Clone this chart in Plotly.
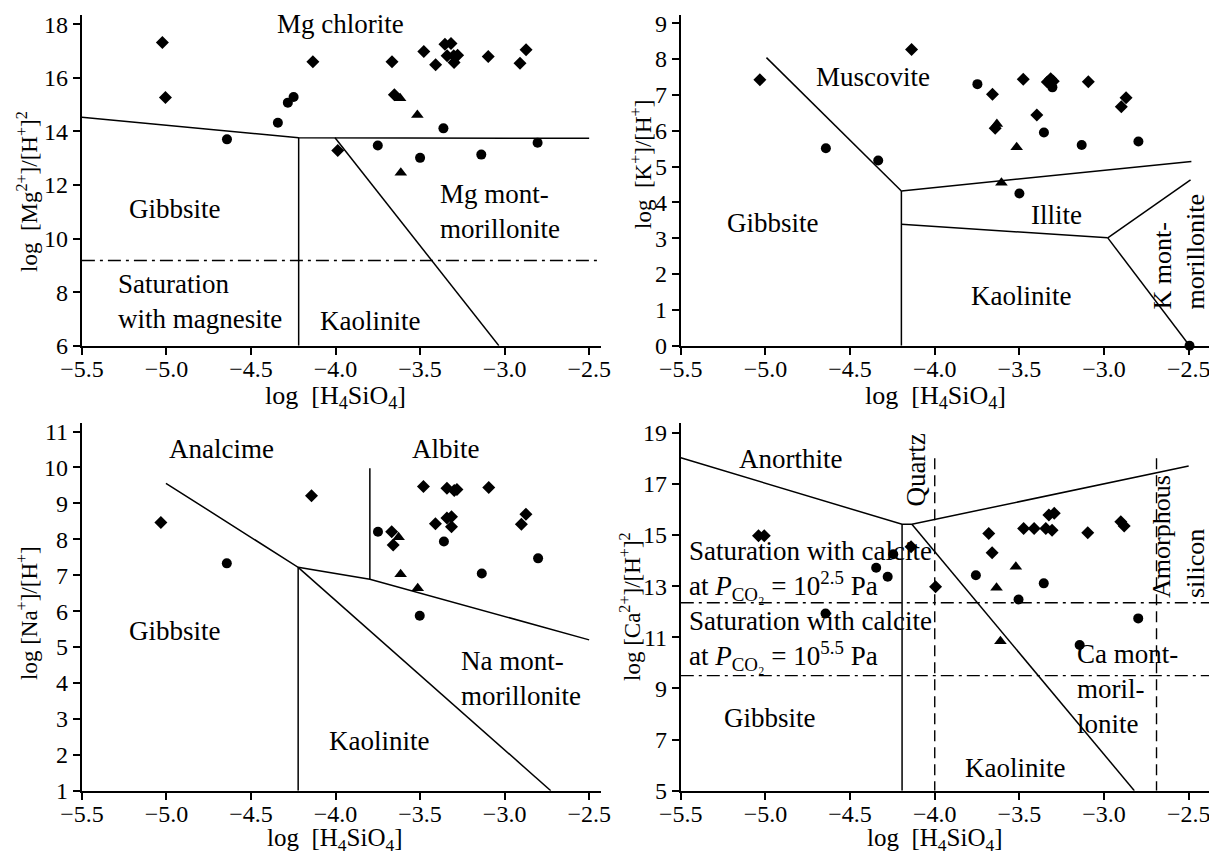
import plotly.graph_objects as go

W, H = 1209, 854
FONT = "Liberation Serif, Times New Roman, DejaVu Serif, serif"

# ---------------- Panel 1: Mg ----------------
mg_dia_x = [-5.024, -5.006, -4.134, -3.666, -3.652, -3.478, -3.408, -3.353, -3.317, -3.340, -3.301, -3.278, -3.299, -3.097, -2.909, -2.873, -3.987]
mg_dia_y = [17.31, 15.26, 16.60, 16.60, 15.36, 16.98, 16.48, 17.25, 17.28, 16.82, 16.82, 16.84, 16.57, 16.79, 16.54, 17.04, 13.28]
mg_cir_x = [-4.642, -4.341, -4.282, -4.248, -3.750, -3.500, -3.362, -3.138, -2.805]
mg_cir_y = [13.70, 14.32, 15.07, 15.28, 13.47, 13.01, 14.11, 13.13, 13.57]
mg_tri_x = [-3.618, -3.516, -3.614]
mg_tri_y = [15.23, 14.61, 12.45]
mg_lines = [
    ([-5.5, -4.218, -2.5], [14.52, 13.76, 13.74]),
    ([-4.218, -4.218], [13.76, 6.0]),
    ([-4.003, -3.034], [13.76, 6.0]),
]
mg_dashdot_y = [9.18]

# ---------------- Panel 2: K ----------------
k_dia_x = [-5.033, -4.137, -3.659, -3.643, -3.477, -3.397, -3.335, -3.315, -3.300, -3.093, -2.898, -2.870]
k_dia_y = [7.42, 8.27, 7.02, 6.07, 7.44, 6.44, 7.36, 7.45, 7.38, 7.37, 6.67, 6.92]
k_cir_x = [-3.748, -4.643, -4.334, -3.355, -3.132, -2.797, -3.500, -2.495, -3.305]
k_cir_y = [7.30, 5.51, 5.17, 5.95, 5.60, 5.70, 4.25, 0.0, 7.21]
k_tri_x = [-3.633, -3.516, -3.606]
k_tri_y = [6.19, 5.54, 4.55]
k_lines = [
    ([-4.994, -4.197], [8.04, 4.32]),
    ([-4.197, -4.197], [4.32, 0.0]),
    ([-4.197, -2.484], [4.32, 5.14]),
    ([-4.197, -2.978], [3.39, 3.01]),
    ([-2.978, -2.489], [3.01, 4.63]),
    ([-2.978, -2.495], [3.01, 0.0]),
]

# ---------------- Panel 3: Na ----------------
na_dia_x = [-5.033, -4.142, -3.668, -3.659, -3.480, -3.409, -3.341, -3.341, -3.314, -3.314, -3.298, -3.282, -3.094, -2.901, -2.874]
na_dia_y = [8.47, 9.21, 8.21, 7.84, 9.47, 8.43, 9.42, 8.59, 8.63, 8.35, 9.36, 9.39, 9.44, 8.42, 8.70]
na_cir_x = [-4.643, -3.749, -3.359, -3.502, -3.135, -2.802]
na_cir_y = [7.33, 8.21, 7.94, 5.87, 7.05, 7.47]
na_tri_x = [-3.627, -3.615, -3.514]
na_tri_y = [8.06, 7.03, 6.64]
na_lines = [
    ([-5.003, -4.221, -3.797, -2.5], [9.56, 7.22, 6.89, 5.20]),
    ([-4.221, -4.221], [7.22, 1.0]),
    ([-3.797, -3.797], [6.89, 9.98]),
    ([-4.221, -2.727], [7.22, 1.0]),
]

# ---------------- Panel 4: Ca ----------------
ca_dia_x = [-5.041, -5.007, -4.140, -3.995, -3.681, -3.661, -3.475, -3.413, -3.344, -3.307, -3.326, -3.294, -3.096, -2.901, -2.881]
ca_dia_y = [14.97, 14.97, 14.54, 12.98, 15.06, 14.31, 15.26, 15.26, 15.26, 15.19, 15.78, 15.85, 15.09, 15.52, 15.35]
ca_cir_x = [-4.346, -4.278, -4.245, -4.645, -3.757, -3.505, -3.356, -3.144, -2.798]
ca_cir_y = [13.72, 13.37, 14.25, 11.93, 13.43, 12.48, 13.11, 10.70, 11.74]
ca_tri_x = [-3.635, -3.521, -3.612]
ca_tri_y = [12.94, 13.76, 10.85]
ca_lines = [
    ([-5.5, -4.193, -4.135, -2.5], [18.02, 15.42, 15.42, 17.70]),
    ([-4.193, -4.193], [15.42, 5.0]),
    ([-4.135, -2.821], [15.42, 5.0]),
]
ca_dashed_x = [-4.0, -2.69]
ca_dashed_top = 18.0
ca_dashdot_y = [12.35, 9.50]

# axis ranges / ticks
x_range_left = [-5.5, -2.43]
x_range_right = [-5.5, -2.38]
x_ticks = [-5.5, -5.0, -4.5, -4.0, -3.5, -3.0, -2.5]
y_ranges = {1: [6, 18.34], 2: [0, 9.23], 3: [1, 11.23], 4: [5, 19.37]}
y_ticks = {1: list(range(6, 19, 2)), 2: list(range(0, 10)), 3: list(range(1, 12)), 4: list(range(5, 20, 2))}

fig = go.Figure()

def add_panel(n, dx, dy, cx, cy, tx, ty, lines):
    xa = "x" if n == 1 else f"x{n}"
    ya = "y" if n == 1 else f"y{n}"
    for lx, ly in lines:
        fig.add_trace(go.Scatter(x=lx, y=ly, mode="lines", line=dict(color="black", width=1.5),
                                 xaxis=xa, yaxis=ya, hoverinfo="skip", cliponaxis=False))
    fig.add_trace(go.Scatter(x=dx, y=dy, mode="markers", marker=dict(symbol="diamond", size=10, color="black"),
                             xaxis=xa, yaxis=ya, cliponaxis=False))
    fig.add_trace(go.Scatter(x=cx, y=cy, mode="markers", marker=dict(symbol="circle", size=10, color="black"),
                             xaxis=xa, yaxis=ya, cliponaxis=False))
    fig.add_trace(go.Scatter(x=tx, y=ty, mode="markers", marker=dict(symbol="triangle-up", size=11, color="black"),
                             xaxis=xa, yaxis=ya, cliponaxis=False))

add_panel(1, mg_dia_x, mg_dia_y, mg_cir_x, mg_cir_y, mg_tri_x, mg_tri_y, mg_lines)
add_panel(2, k_dia_x, k_dia_y, k_cir_x, k_cir_y, k_tri_x, k_tri_y, k_lines)
add_panel(3, na_dia_x, na_dia_y, na_cir_x, na_cir_y, na_tri_x, na_tri_y, na_lines)
add_panel(4, ca_dia_x, ca_dia_y, ca_cir_x, ca_cir_y, ca_tri_x, ca_tri_y, ca_lines)

DASHDOT = "13px,5px,3px,5px"
for yv in mg_dashdot_y:
    fig.add_trace(go.Scatter(x=x_range_left, y=[yv, yv], mode="lines",
                             line=dict(color="black", width=1.4, dash=DASHDOT), xaxis="x", yaxis="y", hoverinfo="skip"))
for yv in ca_dashdot_y:
    fig.add_trace(go.Scatter(x=x_range_right, y=[yv, yv], mode="lines",
                             line=dict(color="black", width=1.4, dash=DASHDOT), xaxis="x4", yaxis="y4", hoverinfo="skip"))
for xv in ca_dashed_x:
    fig.add_trace(go.Scatter(x=[xv, xv], y=[ca_dashed_top, 5.0], mode="lines",
                             line=dict(color="black", width=1.4, dash="11px,6px"), xaxis="x4", yaxis="y4", hoverinfo="skip"))

px_x = lambda p: p / W
px_y = lambda p: 1 - p / H

dom_x_left = [px_x(81.9), px_x(601)]
dom_x_right = [px_x(680.8), 1.0]
dom_y_top = [px_y(345.7), px_y(15)]
dom_y_bot = [px_y(790.7), px_y(423.3)]

axis_common = dict(showline=True, linecolor="black", linewidth=2, ticks="outside", ticklen=7, tickwidth=2,
                   tickcolor="black", showgrid=False, zeroline=False, mirror=False,
                   tickfont=dict(family=FONT, size=24, color="black"), automargin=False,
                   ticklabeloverflow="allow")

layout = dict(
    width=W, height=H, margin=dict(l=0, r=0, t=0, b=0), showlegend=False,
    plot_bgcolor="white", paper_bgcolor="white", font=dict(family=FONT, color="black"),
)
specs = {
    1: (dom_x_left, dom_y_top, x_range_left),
    2: (dom_x_right, dom_y_top, x_range_right),
    3: (dom_x_left, dom_y_bot, x_range_left),
    4: (dom_x_right, dom_y_bot, x_range_right),
}
for n, (dxd, dyd, xr) in specs.items():
    xk = "xaxis" if n == 1 else f"xaxis{n}"
    yk = "yaxis" if n == 1 else f"yaxis{n}"
    ya = "y" if n == 1 else f"y{n}"
    xa = "x" if n == 1 else f"x{n}"
    layout[xk] = dict(axis_common, domain=dxd, range=xr, anchor=ya, tickvals=x_ticks, tickformat=".1f",
                      ticklabelstandoff=-7)
    layout[yk] = dict(axis_common, domain=dyd, range=y_ranges[n], anchor=xa, tickvals=y_ticks[n])
fig.update_layout(**layout)

LBL = 27
def label(n, x, y, text, xanchor="center", yanchor="middle", align="center", angle=0, size=LBL):
    xa = "x" if n == 1 else f"x{n}"
    ya = "y" if n == 1 else f"y{n}"
    fig.add_annotation(x=x, y=y, xref=xa, yref=ya, text=text, showarrow=False, xanchor=xanchor,
                       yanchor=yanchor, align=align, textangle=angle,
                       font=dict(family=FONT, size=size, color="black"))

# Panel 1 labels
label(1, -3.97, 18.0, "Mg chlorite")
label(1, -4.95, 11.11, "Gibbsite")
label(1, -3.396, 11.02, "Mg mont-<br>morillonite", xanchor="left", align="left")
label(1, -5.298, 7.65, "Saturation<br>with magnesite", xanchor="left", align="left")
label(1, -3.795, 6.92, "Kaolinite")
# Panel 2 labels
label(2, -4.367, 7.51, "Muscovite")
label(2, -4.953, 3.42, "Gibbsite")
label(2, -3.282, 3.65, "Illite")
label(2, -3.49, 1.40, "Kaolinite")
label(2, -2.56, 0.94, "K mont-<br>morillonite", yanchor="bottom", align="left", angle=-90, size=26)
# Panel 3 labels
label(3, -4.675, 10.51, "Analcime")
label(3, -3.348, 10.51, "Albite")
label(3, -4.949, 5.46, "Gibbsite")
label(3, -3.269, 4.13, "Na mont-<br>morillonite", xanchor="left", align="left")
label(3, -3.74, 2.39, "Kaolinite")
# Panel 4 labels
label(4, -4.851, 17.96, "Anorthite")
label(4, -4.112, 17.55, "Quartz", angle=-90)
label(4, -2.56, 12.46, "Amorphous<br>silicon", yanchor="bottom", align="left", angle=-90, size=26)
label(4, -5.466, 13.6, "Saturation with calcite<br>at <i>P</i><sub>CO₂</sub> = 10<sup>2.5</sup> Pa", xanchor="left", align="left")
label(4, -5.466, 10.89, "Saturation with calcite<br>at <i>P</i><sub>CO₂</sub> = 10<sup>5.5</sup> Pa", xanchor="left", align="left")
label(4, -4.972, 7.85, "Gibbsite")
label(4, -3.172, 8.97, "Ca mont-<br>moril-<br>lonite", xanchor="left", align="left")
label(4, -3.528, 5.87, "Kaolinite")

# Axis titles (paper coords)
def title(xp, yp, text, angle=0, size=26):
    fig.add_annotation(x=px_x(xp), y=px_y(yp), xref="paper", yref="paper", text=text, showarrow=False,
                       xanchor="center", yanchor="middle", textangle=angle,
                       font=dict(family=FONT, size=size, color="black"))

xt = "log  [H<sub>4</sub>SiO<sub>4</sub>]"
title(335, 397, xt)
title(935, 397, xt)
title(335, 839, xt, size=25)
title(935, 839, xt, size=25)
YT = 23
title(27, 192, "log  [Mg<sup>2+</sup>]/[H<sup>+</sup>]<sup>2</sup>", -90, YT)
title(641, 165, "log  [K<sup>+</sup>]/[H<sup>+</sup>]", -90, YT)
title(27, 613, "log [Na<sup>+</sup>]/[H<sup>+</sup>]", -90, YT)
title(630, 607, "log [Ca<sup>2+</sup>]/[H<sup>+</sup>]<sup>2</sup>", -90, YT)

fig.write_html("out.html")
